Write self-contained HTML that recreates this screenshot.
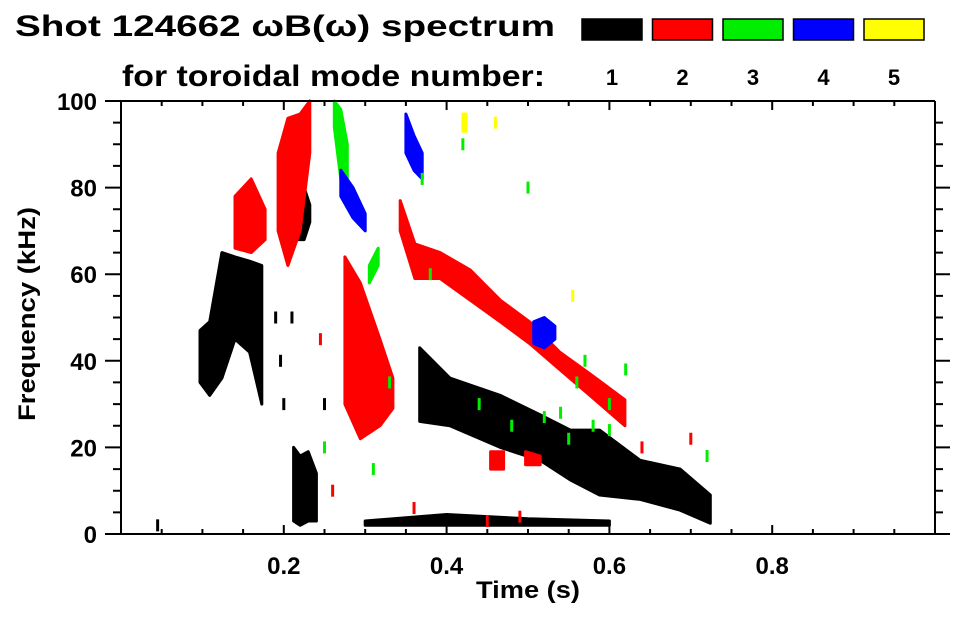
<!DOCTYPE html>
<html><head><meta charset="utf-8"><style>
body{margin:0;background:#fff;}
svg text{font-family:"Liberation Sans",Arial,sans-serif;font-weight:bold;fill:#000;}
</style></head><body>
<svg id="chart" width="963" height="615" viewBox="0 0 963 615">
<text x="15" y="36" font-size="30" textLength="540" lengthAdjust="spacingAndGlyphs">Shot 124662 ωB(ω) spectrum</text>
<text x="122" y="86" font-size="30" textLength="423" lengthAdjust="spacingAndGlyphs">for toroidal mode number:</text>
<g id="legend"></g>
<g id="marks"></g>
<g id="axes"></g>
<text x="528" y="598" font-size="24" text-anchor="middle" textLength="104" lengthAdjust="spacingAndGlyphs">Time (s)</text>
<text transform="translate(35,314) rotate(-90)" font-size="24" text-anchor="middle" textLength="214" lengthAdjust="spacingAndGlyphs">Frequency (kHz)</text>
</svg>
<script>
const modeNumbers = [1, 2, 3, 4, 5];
const modeColors = ["#000000", "#ff0000", "#00ee00", "#0000ff", "#ffff00"];
const xTickValues = [0.2, 0.4, 0.6, 0.8];
const xTickLabels = ["0.2", "0.4", "0.6", "0.8"];
const yTickValues = [0, 20, 40, 60, 80, 100];
const yTickLabels = ["0", "20", "40", "60", "80", "100"];

// bands: mode index, times, low freq, high freq
const bandModes = [0, 0, 0, 0, 0, 1, 1, 1, 1, 1, 1, 2, 2, 3, 3, 3, 4];
const bandTimes = [
 [0.097,0.109,0.124,0.140,0.158,0.173],
 [0.205,0.215,0.225,0.232],
 [0.212,0.220,0.230,0.240],
 [0.367,0.404,0.466,0.515,0.552,0.588,0.638,0.687,0.724],
 [0.300,0.400,0.500,0.600],
 [0.140,0.160,0.177],
 [0.193,0.205,0.220,0.232],
 [0.275,0.294,0.318,0.334],
 [0.343,0.361,0.392,0.429,0.466,0.502,0.539,0.576,0.619],
 [0.454,0.470],
 [0.497,0.515],
 [0.262,0.270,0.278],
 [0.305,0.316],
 [0.270,0.285,0.300],
 [0.350,0.360,0.370],
 [0.507,0.520,0.533],
 [0.420,0.424]
];
const bandLow = [
 [35,32,36,45,42,30],
 [70,68,68,72],
 [3,2,3,3],
 [26,25,20,17,12.5,9,8,5.5,2.5],
 [2,2,2,2],
 [66,65,68],
 [70,62,70,88],
 [30,22,25,29],
 [70,59,59,54,49,44,38,32,25],
 [15,15],
 [16,16],
 [94,82,80],
 [58,62],
 [78,73,70],
 [88,84,82],
 [44,43,45],
 [93,93]
];
const bandHigh = [
 [47,49,65,64,63,62],
 [78,80,80,76],
 [20,18,19,14],
 [43,36,32,27.5,24,24,17,15,9],
 [3,4.5,3.5,3],
 [78,82,75],
 [88,96,97,100],
 [64,58,45,36],
 [77,67,65,61,54,49,42,37,31],
 [19,19],
 [19,18],
 [100,98,90],
 [62,66],
 [84,80,74],
 [97,92,88],
 [49,50,48],
 [97,97]
];
// scattered specks: time, freq, mode index
const speckTimes = [0.045,0.17,0.19,0.196,0.2,0.21,0.245,0.25,0.31,0.33,0.36,0.44,0.48,0.52,0.54,0.55,0.56,0.58,0.6,0.62,0.64,0.7,0.72,0.555,0.46,0.37,0.38,0.42,0.5,0.57,0.6,0.26,0.25,0.45,0.49];
const speckFreqs = [2,60,50,40,30,50,45,20,15,35,6,30,25,27,28,22,35,25,24,38,20,22,18,55,95,82,60,90,80,40,30,10,30,3,4];
const speckModes = [0,0,0,0,0,0,1,2,2,2,1,2,2,2,2,2,2,2,2,2,1,1,2,4,4,2,2,2,2,2,2,1,0,1,1];

const X0=121, X1=935, Y0=534, Y1=101;
const xs = t => X0 + t*(X1-X0);
const ys = f => Y0 - f*(Y0-Y1)/100;
const NS="http://www.w3.org/2000/svg";
function mk(tag, attrs, parent){const e=document.createElementNS(NS,tag);for(const k in attrs)e.setAttribute(k,attrs[k]);parent.appendChild(e);return e;}

const legend=document.getElementById('legend');
modeNumbers.forEach((m,i)=>{
  const cx = 612 + i*70.5;
  const r = mk('rect',{x:cx-30,y:19,width:60,height:21,fill:modeColors[i],stroke:'#000','stroke-width':1.5},legend);
  
  
  const t = mk('text',{x:cx,y:85,'font-size':22,'text-anchor':'middle'},legend);
  t.textContent = m;
  
  
});

const marks=document.getElementById('marks');
bandTimes.forEach((ts,i)=>{
  let d='';
  ts.forEach((t,j)=>{d+=(j?'L':'M')+xs(t).toFixed(1)+','+ys(bandHigh[i][j]).toFixed(1);});
  for(let j=ts.length-1;j>=0;j--){d+='L'+xs(ts[j]).toFixed(1)+','+ys(bandLow[i][j]).toFixed(1);}
  d+='Z';
  const p=mk('path',{d:d,fill:modeColors[bandModes[i]],stroke:modeColors[bandModes[i]],'stroke-width':3,'stroke-linejoin':'round'},marks);
  
  
});
speckTimes.forEach((t,i)=>{
  const r=mk('rect',{x:xs(t)-1.5,y:ys(speckFreqs[i])-6,width:3,height:12,fill:modeColors[speckModes[i]]},marks);
  
  
});

const axes=document.getElementById('axes');
const st={stroke:'#000','stroke-width':2,fill:'none'};
const frame=mk('path',Object.assign({d:`M105,${Y1}H${X1}M105,${Y0}H950M${X0},${Y1}V${Y0}M${X1},${Y1}V${Y0}`},st),axes);


let td='';
for(let k=1;k<20;k++){const t=k*0.05;const x=xs(t);const major=(k%4===0);const L=major?9:5;td+=`M${x.toFixed(1)},${Y0}v${-L}M${x.toFixed(1)},${Y1}v${L}`;}
for(let k=1;k<20;k++){const f=k*5;const y=ys(f);const major=(k%4===0);td+=`M${major?105:113},${y.toFixed(1)}H${X0}M${X1},${y.toFixed(1)}H${major?950:943}`;}
const ticks=mk('path',Object.assign({d:td},st),axes);


xTickValues.forEach((v,i)=>{
  const t=mk('text',{x:xs(v),y:574,'font-size':24,'text-anchor':'middle'},axes);
  t.textContent=xTickLabels[i];
  
  
});
yTickValues.forEach((v,i)=>{
  const t=mk('text',{x:97,y:ys(v)+9,'font-size':24,'text-anchor':'end'},axes);
  t.textContent=yTickLabels[i];
  
  
});
</script>
</body></html>
